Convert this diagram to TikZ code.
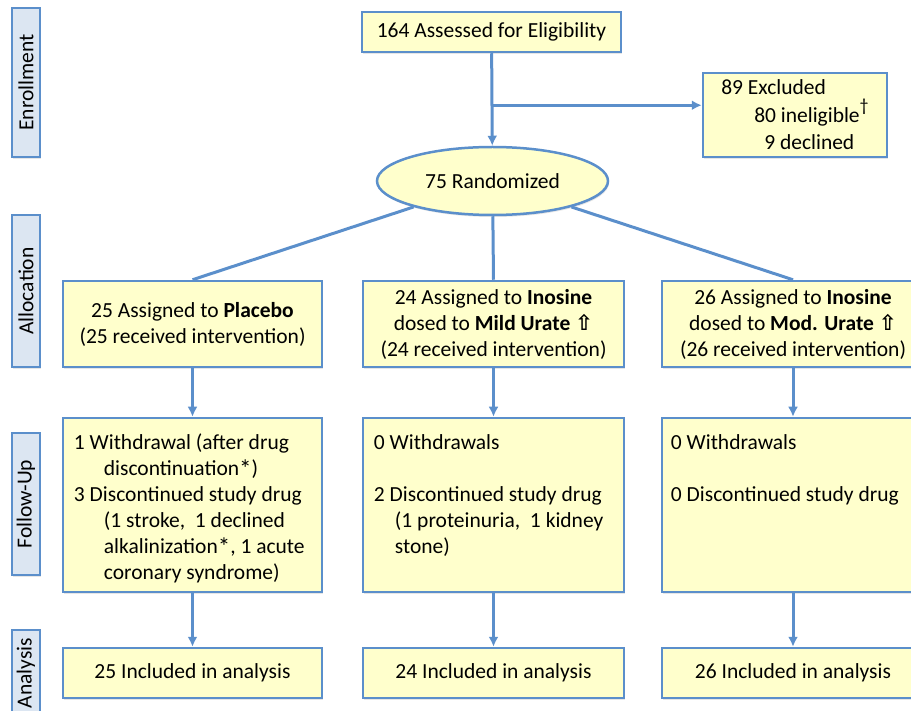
\documentclass[tikz,border=0pt]{standalone}
\usepackage{fontspec}
\setmainfont{Carlito}
\newfontfamily\arrowfont{DejaVu Sans}[Scale=1.0]
\usetikzlibrary{positioning,arrows.meta,shapes.geometric,shadows}
\definecolor{lineblue}{HTML}{5B8FCB}
\definecolor{boxfill}{HTML}{FFFFCC}
\definecolor{barfill}{HTML}{DCE6F2}
\newcommand{\upmark}{{\arrowfont\symbol{"21E7}}}
\newcommand{\astmark}{\raisebox{-2pt}{\fontsize{25}{25}\selectfont *}}
\newcommand{\dagmark}{\raisebox{11pt}{\fontsize{18}{18}\selectfont\textdagger}}
\tikzset{
  stage/.style={rectangle,draw=lineblue,fill=boxfill,line width=2.5pt,inner sep=0pt,align=center,
                drop shadow={shadow xshift=1pt,shadow yshift=-2pt,opacity=0.2}},
  oval/.style={stage,ellipse},
  phase/.style={rectangle,draw=lineblue,fill=barfill,line width=2.5pt,inner sep=0pt,
                minimum height=28pt,rotate=90,
                drop shadow={shadow xshift=1pt,shadow yshift=-2pt,opacity=0.2}},
  note/.style={anchor=north west,inner sep=0pt,align=left},
  link/.style={draw=lineblue,line width=3pt},
  arr/.style={link,-{Latex[length=10pt,width=10pt]}},
}

\begin{document}
\begin{tikzpicture}[x=1pt,y=-1pt,font=\fontsize{21.5}{26}\selectfont]
  \useasboundingbox (0,0) rectangle (911,711);
  % phase bars
  \node[phase,minimum width=149pt] (barenrol) at (26,82.5) {Enrollment};
  \node[phase,minimum width=152pt] (baralloc) at (26,291) {Allocation};
  \node[phase,minimum width=142pt] (barfollow) at (26,504) {Follow-Up};
  \node[phase,minimum width=86pt] (baranalysis) at (26,673) {Analysis};

  % enrollment
  \node[stage,minimum width=259pt,minimum height=40pt] (assess) at (491.5,32) {164 Assessed for Eligibility};
  \node[stage,minimum width=184pt,minimum height=84pt,align=left,font=\fontsize{21.5}{27.5}\selectfont] (excl) at (795,115)
    {89 Excluded\\ \hspace*{33pt}80 ineligible\dagmark\\ \hspace*{43pt}9 declined};
  \node[oval,minimum width=231pt,minimum height=68pt] (rand) at (492.5,181) {75 Randomized};

  % allocation
  \node[stage,minimum width=259pt,minimum height=86pt] (placebo) at (192.5,324)
    {25 Assigned to \textbf{Placebo}\\(25 received intervention)};
  \node[stage,minimum width=261pt,minimum height=86pt] (mild) at (493.5,324)
    {24 Assigned to \textbf{Inosine}\\dosed to \textbf{Mild Urate \upmark}\\(24 received intervention)};
  \node[stage,minimum width=262pt,minimum height=86pt] (moder) at (793,324)
    {26 Assigned to \textbf{Inosine}\\dosed to \textbf{Mod. Urate \upmark}\\(26 received intervention)};

  % follow-up
  \node[stage,minimum width=259pt,minimum height=174pt] (fuplacebo) at (192.5,505) {};
  \node[stage,minimum width=261pt,minimum height=174pt] (fumild) at (493.5,505) {};
  \node[stage,minimum width=262pt,minimum height=174pt] (fumoder) at (793,505) {};
  \node[note] (fuplacebotxt) at ([xshift=12pt,yshift=-14pt]fuplacebo.north west)
    {\strut 1 Withdrawal (after drug\\
     \hspace*{30pt}discontinuation\astmark)\\
     3 Discontinued study drug\\
     \hspace*{30pt}(1 stroke,\ \ 1 declined\\
     \hspace*{30pt}alkalinization\astmark,\ 1 acute\\
     \hspace*{30pt}coronary syndrome)};
  \node[note] (fumildtxt) at ([xshift=12pt,yshift=-14pt]fumild.north west)
    {\strut 0 Withdrawals\\[26pt]
     2 Discontinued study drug\\
     \hspace*{21pt}(1 proteinuria,\ \ 1 kidney\\
     \hspace*{21pt}stone)};
  \node[note] (fumodertxt) at ([xshift=10pt,yshift=-14pt]fumoder.north west)
    {\strut 0 Withdrawals\\[26pt]
     0 Discontinued study drug};

  % analysis
  \node[stage,minimum width=259pt,minimum height=50pt] (anplacebo) at (192.5,673) {25 Included in analysis};
  \node[stage,minimum width=261pt,minimum height=50pt] (anmild) at (493.5,673) {24 Included in analysis};
  \node[stage,minimum width=262pt,minimum height=50pt] (anmoder) at (793,673) {26 Included in analysis};

  % connectors
  \coordinate (branch) at ([yshift=-52pt]assess.south);
  \draw[arr] (assess) -- (rand);
  \draw[arr] (branch) -- (branch -| excl.west);
  \draw[link] (rand) -- (placebo.north);
  \draw[link] (rand) -- (mild.north);
  \draw[link] (rand) -- (moder.north);
  \draw[arr] (placebo) -- (fuplacebo);
  \draw[arr] (mild) -- (fumild);
  \draw[arr] (moder) -- (fumoder);
  \draw[arr] (fuplacebo) -- (anplacebo);
  \draw[arr] (fumild) -- (anmild);
  \draw[arr] (fumoder) -- (anmoder);
\end{tikzpicture}
\end{document}
